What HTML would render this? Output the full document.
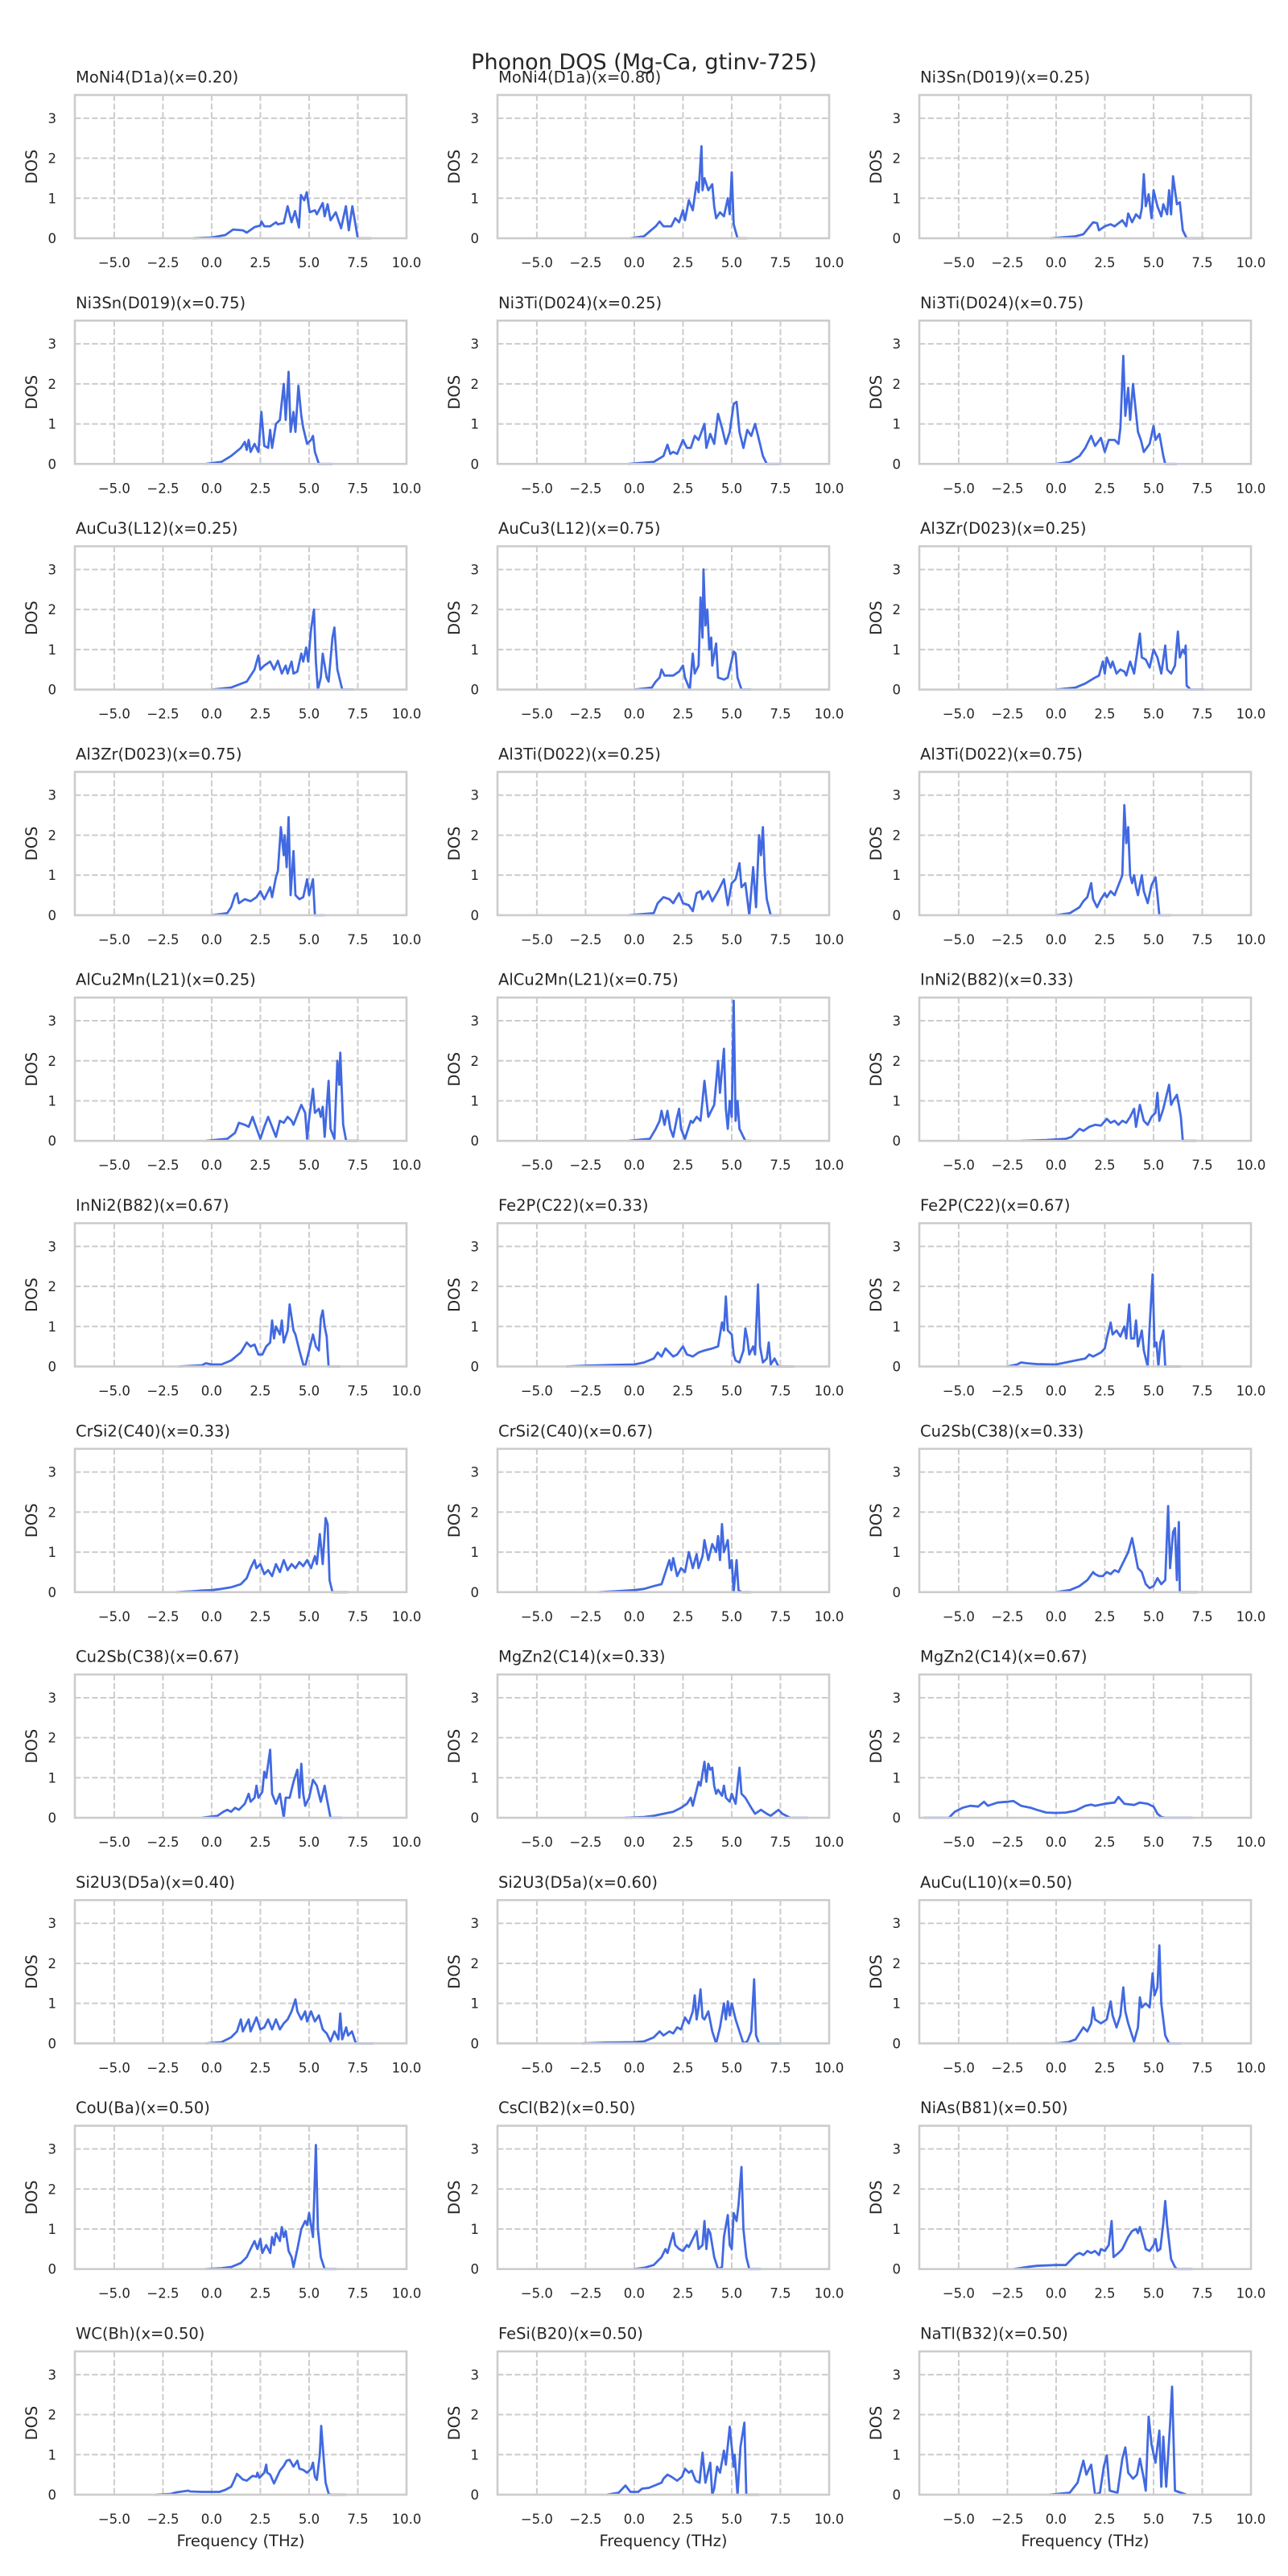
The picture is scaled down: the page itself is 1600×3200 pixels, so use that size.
<!DOCTYPE html>
<html><head><meta charset="utf-8"><style>
html,body{margin:0;padding:0;background:#fff;}
svg{display:block;font-family:"DejaVu Sans","Liberation Sans",sans-serif;}
</style></head><body>
<svg id="fig" width="1600" height="3200" viewBox="0 0 1600 3200" xmlns="http://www.w3.org/2000/svg">
<rect x="0" y="0" width="1600" height="3200" fill="#fff"/>
<text x="800" y="86" text-anchor="middle" font-size="27" fill="#262626">Phonon DOS (Mg-Ca, gtinv-725)</text>
</svg>
<script>
const titles = ["MoNi4(D1a)(x=0.20)","MoNi4(D1a)(x=0.80)","Ni3Sn(D019)(x=0.25)","Ni3Sn(D019)(x=0.75)","Ni3Ti(D024)(x=0.25)","Ni3Ti(D024)(x=0.75)","AuCu3(L12)(x=0.25)","AuCu3(L12)(x=0.75)","Al3Zr(D023)(x=0.25)","Al3Zr(D023)(x=0.75)","Al3Ti(D022)(x=0.25)","Al3Ti(D022)(x=0.75)","AlCu2Mn(L21)(x=0.25)","AlCu2Mn(L21)(x=0.75)","InNi2(B82)(x=0.33)","InNi2(B82)(x=0.67)","Fe2P(C22)(x=0.33)","Fe2P(C22)(x=0.67)","CrSi2(C40)(x=0.33)","CrSi2(C40)(x=0.67)","Cu2Sb(C38)(x=0.33)","Cu2Sb(C38)(x=0.67)","MgZn2(C14)(x=0.33)","MgZn2(C14)(x=0.67)","Si2U3(D5a)(x=0.40)","Si2U3(D5a)(x=0.60)","AuCu(L10)(x=0.50)","CoU(Ba)(x=0.50)","CsCl(B2)(x=0.50)","NiAs(B81)(x=0.50)","WC(Bh)(x=0.50)","FeSi(B20)(x=0.50)","NaTl(B32)(x=0.50)"];
const xTicks = [-5, -2.5, 0, 2.5, 5, 7.5, 10];
const xTickLabels = ["\u22125.0","\u22122.5","0.0","2.5","5.0","7.5","10.0"];
const yTicks = [0, 1, 2, 3];
const xDomain = [-7.02, 10];
const yDomain = [0, 3.58];
// spectra: flat [freq, dos, freq, dos, ...] per panel
const spectra = [
[-0.97,0,0,0.02,0.7,0.08,1.1,0.22,1.6,0.2,1.8,0.14,2.2,0.28,2.5,0.32,2.55,0.42,2.7,0.3,3.0,0.3,3.3,0.4,3.4,0.35,3.7,0.38,3.9,0.8,4.1,0.4,4.28,0.68,4.48,0.27,4.58,1.08,4.75,0.95,4.88,1.15,5.03,0.65,5.3,0.7,5.4,0.6,5.7,0.88,5.8,0.55,5.95,0.85,6.1,0.45,6.37,0.65,6.64,0.25,6.89,0.8,7.04,0.2,7.22,0.8,7.5,0,8.2,0],
[-0.2,0,0.5,0.05,1.1,0.3,1.3,0.42,1.5,0.3,1.9,0.3,2.1,0.5,2.3,0.4,2.5,0.7,2.6,0.45,2.8,0.95,3.0,0.7,3.2,1.4,3.3,1.15,3.45,2.3,3.5,1.2,3.6,1.5,3.8,1.2,4.0,1.35,4.1,0.8,4.2,0.5,4.4,0.65,4.6,0.55,4.8,1.0,4.9,0.6,5.0,1.65,5.1,0.35,5.3,0,5.8,0],
[-0.3,0,1.0,0.05,1.4,0.1,1.9,0.4,2.1,0.38,2.2,0.2,2.5,0.3,2.8,0.35,3.0,0.3,3.4,0.45,3.6,0.3,3.7,0.62,3.9,0.4,4.1,0.6,4.3,0.5,4.4,0.75,4.5,1.6,4.6,0.8,4.75,1.1,4.9,0.5,5.0,1.2,5.2,0.8,5.4,0.55,5.5,0.85,5.7,0.6,5.8,1.2,5.9,0.6,6.0,1.55,6.2,0.85,6.35,0.9,6.5,0.2,6.7,0,7.6,0],
[-0.3,0,0.5,0.05,1.0,0.2,1.5,0.4,1.7,0.55,1.8,0.35,1.9,0.6,2.0,0.3,2.2,0.5,2.4,0.3,2.55,1.3,2.7,0.45,2.9,0.4,3.0,0.85,3.1,0.4,3.3,1.0,3.5,1.1,3.7,2.0,3.8,1.1,3.95,2.3,4.05,0.8,4.2,1.3,4.3,0.8,4.45,1.95,4.6,1.2,4.7,0.9,4.9,0.5,5.1,0.6,5.2,0.7,5.3,0.3,5.5,0,6.2,0],
[-0.3,0,1.0,0.05,1.5,0.2,1.7,0.48,1.85,0.25,2.0,0.3,2.2,0.25,2.5,0.6,2.7,0.4,2.9,0.4,3.1,0.7,3.3,0.6,3.6,1.0,3.7,0.4,3.9,0.75,4.1,0.5,4.3,1.25,4.5,0.9,4.7,0.5,4.9,0.8,5.1,1.5,5.25,1.55,5.4,0.8,5.6,0.4,5.8,0.85,6.0,0.7,6.2,1.0,6.4,0.6,6.6,0.2,6.8,0,7.5,0],
[0,0,0.7,0.05,1.2,0.2,1.5,0.4,1.8,0.7,2.0,0.45,2.3,0.65,2.5,0.3,2.7,0.6,3.0,0.6,3.2,0.5,3.3,0.9,3.45,2.7,3.55,1.2,3.7,1.9,3.8,1.1,3.95,2.0,4.05,1.5,4.2,0.8,4.35,0.6,4.5,0.3,4.8,0.5,5.0,0.95,5.1,0.6,5.3,0.75,5.5,0.2,5.6,0,6.2,0],
[0,0,1.0,0.05,1.8,0.2,2.2,0.5,2.4,0.85,2.5,0.5,2.7,0.6,3.0,0.7,3.2,0.5,3.4,0.72,3.6,0.4,3.8,0.6,3.9,0.4,4.1,0.7,4.2,0.4,4.4,0.45,4.6,0.9,4.7,0.7,4.85,1.05,4.95,0.7,5.1,1.5,5.25,2.0,5.35,0.7,5.45,0,5.6,0.3,5.7,0.9,5.9,0.3,6.0,0.2,6.2,1.3,6.3,1.55,6.45,0.5,6.7,0,7.3,0],
[0,0,0.9,0.05,1.1,0.2,1.3,0.3,1.4,0.5,1.55,0.35,2.0,0.35,2.3,0.45,2.5,0.6,2.6,0.3,2.85,0,3.0,0.9,3.1,0.4,3.3,0.6,3.4,2.3,3.5,1.3,3.55,3.0,3.65,1.6,3.75,2.0,3.85,1.0,3.95,1.3,4.0,0.6,4.2,1.15,4.3,0.3,4.6,0.25,4.8,0.3,5.1,0.95,5.2,0.9,5.3,0.3,5.5,0,6.0,0],
[0,0,1,0.05,1.5,0.15,2.0,0.3,2.2,0.35,2.4,0.7,2.5,0.4,2.6,0.8,2.8,0.55,2.9,0.7,3.1,0.4,3.3,0.5,3.5,0.45,3.6,0.35,3.8,0.7,4.0,0.4,4.3,1.4,4.4,0.8,4.6,0.75,4.8,0.55,5.0,1.0,5.2,0.8,5.4,0.4,5.6,1.1,5.7,0.5,5.9,0.4,6.1,0.6,6.25,1.45,6.35,0.8,6.5,1.0,6.6,0.9,6.65,1.1,6.7,0.1,6.9,0,7.6,0],
[0,0,0.8,0.05,1.0,0.2,1.2,0.5,1.3,0.55,1.4,0.3,1.7,0.4,2.0,0.35,2.3,0.45,2.5,0.6,2.7,0.4,3.0,0.7,3.1,0.45,3.3,0.95,3.4,1.1,3.55,2.2,3.7,1.5,3.75,2.0,3.85,1.2,3.95,2.45,4.05,0.5,4.2,1.6,4.3,0.5,4.5,0.4,4.7,0.45,4.9,0.9,5.0,0.5,5.2,0.9,5.3,0,5.8,0],
[-0.3,0,1.0,0.05,1.2,0.3,1.5,0.45,1.8,0.4,2.0,0.3,2.3,0.55,2.5,0.3,2.8,0.25,3.0,0.1,3.2,0.55,3.4,0.6,3.5,0.4,3.8,0.6,4.0,0.35,4.3,0.6,4.6,0.9,4.8,0.25,5.0,0.8,5.2,0.9,5.4,1.3,5.5,0.7,5.7,0.8,5.9,0,6.1,1.2,6.25,0.2,6.4,2.0,6.5,1.5,6.6,2.2,6.7,1.0,6.8,0.4,7.0,0,7.5,0],
[0,0,0.7,0.05,1.2,0.2,1.4,0.35,1.6,0.45,1.8,0.8,1.9,0.4,2.1,0.2,2.3,0.4,2.5,0.55,2.6,0.45,2.8,0.6,3.0,0.5,3.2,0.75,3.4,1.0,3.5,2.75,3.6,1.8,3.7,2.2,3.8,1.0,3.9,0.8,4.0,1.0,4.1,0.7,4.2,0.5,4.4,1.0,4.5,0.6,4.7,0.3,4.9,0.75,5.1,0.95,5.2,0.5,5.3,0,5.9,0],
[-0.3,0,0.8,0.05,1.2,0.2,1.4,0.45,1.7,0.4,1.9,0.35,2.1,0.6,2.2,0.45,2.5,0.05,2.7,0.35,2.9,0.6,3.1,0.35,3.3,0.1,3.5,0.5,3.7,0.45,3.9,0.6,4.1,0.5,4.2,0.4,4.4,0.65,4.6,0.9,4.8,0.7,4.9,0.05,5.0,0.55,5.2,1.3,5.3,0.7,5.5,0.8,5.6,0.6,5.7,0.85,5.8,0.1,6.0,1.5,6.1,0.3,6.3,0.05,6.45,2.0,6.55,1.4,6.6,2.2,6.75,0.4,6.9,0,7.5,0],
[-0.3,0,0.8,0.05,1.1,0.3,1.3,0.5,1.4,0.75,1.55,0.4,1.7,0.75,1.85,0.3,2.0,0.1,2.2,0.6,2.3,0.8,2.4,0.3,2.6,0.05,2.9,0.5,3.0,0.45,3.2,0.6,3.4,0.5,3.6,1.5,3.8,0.6,4.0,0.8,4.1,0.9,4.3,2.0,4.4,1.2,4.6,2.3,4.7,0.8,4.8,0.3,4.9,1.0,5.0,0.6,5.1,3.5,5.2,0.5,5.3,1.0,5.4,0.3,5.7,0,6.0,0],
[-1.8,0,-0.5,0.02,0.5,0.05,0.8,0.1,1.0,0.2,1.2,0.3,1.4,0.25,1.7,0.35,2.0,0.4,2.3,0.38,2.6,0.55,2.8,0.45,3.0,0.5,3.2,0.4,3.4,0.5,3.6,0.45,3.8,0.6,4.0,0.8,4.1,0.35,4.3,0.9,4.5,0.5,4.7,0.4,4.9,0.6,5.1,0.7,5.2,1.2,5.3,0.5,5.5,0.8,5.6,1.0,5.8,1.4,5.9,0.9,6.0,1.0,6.2,1.15,6.3,0.9,6.4,0.6,6.5,0,7.2,0],
[-1.7,0,-0.5,0.03,-0.3,0.08,0,0.05,0.5,0.05,1.0,0.15,1.5,0.35,1.8,0.6,2.0,0.5,2.2,0.55,2.4,0.3,2.6,0.3,2.8,0.5,3.0,0.6,3.1,1.15,3.2,0.7,3.3,1.0,3.5,0.8,3.6,1.15,3.7,0.6,3.9,0.9,4.0,1.55,4.2,0.9,4.3,0.8,4.5,0.4,4.7,0.05,4.8,0,5.0,0.4,5.2,0.8,5.35,0.5,5.5,0.4,5.6,1.2,5.7,1.4,5.8,1.0,5.9,0.75,6.0,0,6.6,0],
[-3.5,0,-2.5,0.02,-1.0,0.04,0,0.05,0.5,0.1,1.0,0.2,1.2,0.35,1.4,0.25,1.6,0.45,1.8,0.35,2.0,0.25,2.2,0.3,2.5,0.5,2.7,0.3,3.0,0.25,3.3,0.35,3.6,0.4,4.0,0.45,4.3,0.5,4.5,1.1,4.6,0.9,4.7,1.75,4.8,0.9,5.0,0.8,5.1,0.3,5.2,0.15,5.4,0.1,5.6,0.4,5.7,0.95,5.8,0.7,5.9,0.3,6.1,0.5,6.2,0.3,6.35,2.05,6.45,0.5,6.6,0.1,6.8,0.2,6.9,0.6,7.0,0.05,7.2,0.2,7.4,0,8.2,0],
[-2.5,0,-2.0,0.05,-1.8,0.1,-1.5,0.08,-1.0,0.06,0,0.05,0.5,0.1,1.0,0.15,1.5,0.2,1.7,0.3,1.9,0.25,2.1,0.3,2.3,0.35,2.5,0.45,2.6,0.7,2.7,0.9,2.8,1.1,2.9,0.8,3.1,0.9,3.3,0.75,3.5,1.0,3.6,0.7,3.75,1.55,3.85,0.7,4.0,0.7,4.1,1.15,4.2,0.5,4.4,0.9,4.5,0.4,4.7,0,4.8,1.0,4.95,2.3,5.05,0.5,5.15,0.6,5.25,0,5.35,0.6,5.5,0.9,5.6,0,6.4,0],
[-1.8,0,-1,0.02,-0.5,0.04,0,0.05,0.5,0.08,1.0,0.12,1.5,0.2,1.8,0.35,2.0,0.6,2.2,0.8,2.3,0.6,2.5,0.7,2.7,0.45,2.9,0.55,3.1,0.4,3.3,0.7,3.5,0.5,3.7,0.8,3.9,0.55,4.1,0.7,4.3,0.6,4.5,0.75,4.7,0.65,4.9,0.8,5.1,0.6,5.3,0.9,5.4,0.7,5.55,1.45,5.7,0.7,5.85,1.85,5.95,1.7,6.05,0.3,6.2,0,7.0,0],
[-1.8,0,-1,0.02,0,0.05,0.5,0.08,1.0,0.15,1.4,0.2,1.6,0.5,1.8,0.8,1.9,0.55,2.0,0.85,2.2,0.4,2.4,0.6,2.6,0.5,2.8,1.0,3.0,0.6,3.2,0.95,3.3,0.6,3.5,0.9,3.6,1.3,3.8,0.8,4.0,1.2,4.2,1.0,4.3,1.4,4.4,0.8,4.5,1.7,4.6,1.0,4.8,1.3,4.9,0.6,5.0,0.8,5.1,0,5.25,0.8,5.35,0.05,5.5,0,6.0,0],
[0,0,0.7,0.05,1.2,0.15,1.6,0.3,1.9,0.5,2.0,0.45,2.2,0.4,2.4,0.4,2.6,0.5,2.8,0.45,3.0,0.55,3.2,0.5,3.5,0.8,3.7,1.0,3.9,1.35,4.0,1.1,4.2,0.6,4.4,0.5,4.6,0.2,4.8,0.1,5.0,0.15,5.2,0.35,5.4,0.2,5.6,0.3,5.75,2.15,5.85,0.6,6.0,1.5,6.1,1.6,6.2,0.3,6.3,1.75,6.35,0,7.3,0],
[-0.5,0,0.3,0.05,0.6,0.15,0.8,0.2,1.0,0.15,1.2,0.25,1.4,0.2,1.7,0.35,1.9,0.6,2.0,0.4,2.2,0.5,2.3,0.8,2.4,0.5,2.6,0.65,2.7,1.15,2.8,1.0,3.0,1.7,3.1,0.6,3.3,0.35,3.5,0.6,3.7,0,3.8,0.5,4.0,0.5,4.2,0.9,4.4,1.2,4.5,0.5,4.6,1.35,4.7,0.6,4.8,0.3,5.0,0.5,5.2,0.95,5.4,0.8,5.6,0.4,5.8,0.8,5.9,0.5,6.1,0,6.7,0],
[-0.5,0,0.5,0.02,1.0,0.05,1.5,0.1,2.0,0.15,2.4,0.25,2.7,0.35,2.9,0.5,3.0,0.3,3.3,0.9,3.4,0.8,3.6,1.4,3.7,0.9,3.8,1.35,3.9,1.2,4.0,1.25,4.1,0.8,4.2,0.6,4.3,0.7,4.5,0.55,4.6,0.8,4.7,0.5,4.9,0.4,5.0,0.6,5.2,0.35,5.4,1.25,5.5,0.6,5.7,0.5,6.0,0.25,6.2,0.1,6.5,0.2,6.8,0.1,7.0,0.05,7.4,0.2,7.6,0.1,8.0,0,8.9,0],
[-6.8,0,-5.5,0,-5.2,0.15,-4.8,0.25,-4.4,0.3,-4.0,0.28,-3.7,0.4,-3.5,0.3,-3.0,0.38,-2.5,0.4,-2.2,0.42,-1.8,0.3,-1.3,0.25,-1.0,0.2,-0.5,0.13,0,0.12,0.5,0.13,1.0,0.18,1.5,0.3,1.8,0.33,2.0,0.3,2.5,0.35,3.0,0.38,3.2,0.52,3.5,0.35,4.0,0.32,4.3,0.38,4.7,0.35,5.0,0.28,5.2,0.1,5.4,0.02,5.6,0,7.0,0],
[-0.3,0,0.5,0.03,1.0,0.15,1.3,0.3,1.5,0.6,1.6,0.3,1.9,0.6,2.0,0.3,2.3,0.65,2.5,0.35,2.7,0.4,2.9,0.6,3.1,0.35,3.3,0.6,3.5,0.35,3.7,0.5,3.9,0.6,4.1,0.8,4.3,1.1,4.4,0.8,4.6,0.6,4.8,0.8,4.9,0.55,5.1,0.8,5.3,0.55,5.5,0.7,5.7,0.35,5.9,0.25,6.1,0.05,6.3,0.3,6.5,0.1,6.6,0.75,6.7,0.1,6.9,0.4,7.0,0.2,7.2,0.3,7.4,0,8.3,0],
[-2.7,0,-1.5,0.02,0,0.03,0.5,0.05,1.0,0.15,1.3,0.3,1.5,0.2,1.8,0.3,2.0,0.25,2.2,0.4,2.4,0.35,2.6,0.65,2.8,0.5,3.0,0.8,3.1,1.2,3.2,0.6,3.3,0.9,3.4,1.35,3.5,0.65,3.6,0.6,3.8,0.8,4.0,0.3,4.2,0,4.4,0.4,4.6,1.0,4.7,0.6,4.8,1.05,4.9,0.7,5.0,1.0,5.2,0.6,5.4,0.3,5.6,0,5.8,0.05,6.0,0.3,6.15,1.6,6.25,0.2,6.4,0,7.5,0],
[0,0,0.6,0.03,1.0,0.1,1.4,0.4,1.6,0.3,1.8,0.5,1.9,0.9,2.0,0.6,2.3,0.5,2.6,0.6,2.8,1.05,2.9,0.7,3.1,0.4,3.3,0.7,3.45,1.4,3.55,0.8,3.7,0.5,3.9,0.2,4.0,0.05,4.2,0.4,4.3,1.15,4.4,0.9,4.6,1.0,4.8,0.9,4.95,1.75,5.05,1.2,5.2,1.4,5.3,2.45,5.4,1.0,5.6,0.2,5.8,0,6.4,0],
[-0.3,0,0.5,0.02,1.0,0.05,1.5,0.15,1.8,0.3,2.0,0.5,2.2,0.7,2.35,0.5,2.5,0.75,2.6,0.4,2.8,0.6,3.0,0.4,3.1,0.8,3.2,0.6,3.3,0.9,3.5,0.7,3.6,1.05,3.7,0.8,3.8,0.95,3.95,0.45,4.1,0.3,4.2,0.05,4.4,0.5,4.6,1.0,4.8,1.2,4.9,1.1,5.0,1.4,5.2,0.8,5.35,3.1,5.45,1.0,5.6,0.3,5.8,0,6.4,0],
[0,0,0.5,0.03,1.0,0.1,1.4,0.3,1.6,0.5,1.7,0.4,2.0,0.9,2.1,0.6,2.3,0.5,2.5,0.45,2.7,0.6,2.8,0.55,3.2,0.95,3.3,0.5,3.5,0.6,3.6,1.2,3.7,0.5,3.8,1.0,3.9,0.9,4.1,0.3,4.3,0,4.5,0.05,4.6,0.8,4.8,1.35,4.9,0.6,5.0,0.5,5.1,1.4,5.25,1.2,5.35,1.6,5.5,2.55,5.6,1.0,5.75,0.3,5.9,0,6.5,0],
[-2.2,0,-1.5,0.05,-1.0,0.08,0,0.1,0.5,0.1,0.7,0.2,1.0,0.35,1.2,0.4,1.4,0.35,1.6,0.45,1.8,0.4,2.0,0.45,2.2,0.35,2.3,0.5,2.5,0.45,2.7,0.6,2.85,1.2,2.95,0.3,3.2,0.4,3.4,0.5,3.7,0.8,3.9,0.95,4.1,1.0,4.2,0.9,4.3,1.05,4.5,0.7,4.6,0.5,4.8,0.45,5.0,0.6,5.1,0.75,5.2,0.45,5.35,0.5,5.5,1.15,5.6,1.7,5.7,1.1,5.9,0.25,6.1,0.05,6.2,0,7.0,0],
[-2.9,0,-2.1,0.02,-1.8,0.06,-1.2,0.1,-1.1,0.08,-0.5,0.07,0.4,0.07,0.7,0.12,1.0,0.2,1.1,0.3,1.3,0.52,1.6,0.38,1.8,0.35,2.1,0.47,2.3,0.45,2.35,0.55,2.45,0.42,2.7,0.55,2.8,0.75,2.85,0.55,3.0,0.5,3.2,0.28,3.5,0.6,3.7,0.72,3.85,0.85,4.0,0.87,4.2,0.7,4.4,0.85,4.5,0.65,4.7,0.62,4.9,0.55,5.1,0.65,5.2,0.8,5.3,0.45,5.4,0.37,5.55,1.0,5.62,1.72,5.75,0.9,5.85,0.3,6.0,0.03,6.1,0,6.9,0],
[-1.4,0,-0.8,0.05,-0.45,0.23,-0.2,0.07,0.2,0.07,0.4,0.15,0.75,0.17,1.4,0.3,1.5,0.4,1.7,0.5,1.9,0.45,2.2,0.35,2.45,0.45,2.6,0.65,2.8,0.55,2.95,0.6,3.15,0.35,3.35,0.3,3.5,1.05,3.65,0.3,3.8,0.6,3.9,0.8,4.0,0,4.1,0.15,4.25,0.7,4.4,0.55,4.6,1.1,4.7,0.75,4.9,1.7,5.1,0.7,5.15,1.0,5.3,0,5.45,1.2,5.65,1.8,5.75,0,6.4,0],
[-0.35,0,0.7,0.05,1.1,0.3,1.4,0.85,1.55,0.5,1.8,0.75,2.0,0,2.25,0.05,2.45,0.7,2.6,0.98,2.75,0.1,3.15,0.05,3.4,0.9,3.55,1.18,3.7,0.55,3.95,0.4,4.15,0.5,4.3,0.9,4.5,0.4,4.6,0.1,4.75,1.95,4.9,1.25,5.1,0.8,5.3,1.6,5.4,0.2,5.5,1.45,5.65,0.2,5.85,1.75,5.95,2.7,6.1,0.1,6.7,0]
];

const NS = "http://www.w3.org/2000/svg";
const fig = document.getElementById('fig');
const colLeft = [93, 618, 1142];
const AW = 412, AH = 178, TOP0 = 118, ROWSTEP = 280.3;
function mk(tag, attrs, parent){ const e = document.createElementNS(NS, tag); for (const k in attrs) e.setAttribute(k, attrs[k]); (parent||fig).appendChild(e); return e; }

titles.forEach((t, i) => {
  const r = Math.floor(i / 3), c = i % 3;
  const L = colLeft[c], T = TOP0 + r * ROWSTEP, B = T + AH, R = L + AW;
  const sx = v => L + (v - xDomain[0]) / (xDomain[1] - xDomain[0]) * AW;
  const sy = v => B - (v - yDomain[0]) / (yDomain[1] - yDomain[0]) * AH;
  const g = mk('g', {});
  
  
  const tt = mk('text', {x: L + 1, y: T - 15.5, 'font-size': 19.5, fill: '#262626'}, g);
  tt.textContent = t;
  
  
  xTicks.forEach((v, k) => {
    const gl = mk('line', {x1: sx(v), x2: sx(v), y1: T, y2: B, stroke: '#cccccc', 'stroke-width': 2, 'stroke-dasharray': '7.4,3.2'}, g);
    
    
    const tl = mk('text', {x: sx(v), y: B + 36, 'font-size': 16.5, fill: '#262626', 'text-anchor': 'middle'}, g);
    tl.textContent = xTickLabels[k];
    
    
  });
  yTicks.forEach(v => {
    const gl = mk('line', {x1: L, x2: R, y1: sy(v), y2: sy(v), stroke: '#cccccc', 'stroke-width': 2, 'stroke-dasharray': '7.4,3.2'}, g);
    
    
    const tl = mk('text', {x: L - 23, y: sy(v) + 6, 'font-size': 16.5, fill: '#262626', 'text-anchor': 'end'}, g);
    tl.textContent = String(v);
    
    
  });
  const yl = mk('text', {x: 0, y: 0, 'font-size': 19.5, fill: '#262626', 'text-anchor': 'middle', transform: 'translate(' + (L - 47) + ',' + (T + AH / 2) + ') rotate(-90)'}, g);
  yl.textContent = 'DOS';
  
  
  if (r === 10) {
    const xl = mk('text', {x: L + AW / 2, y: B + 64, 'font-size': 19.5, fill: '#262626', 'text-anchor': 'middle'}, g);
    xl.textContent = 'Frequency (THz)';
    
    
  }
  const s = spectra[i];
  let d = '';
  for (let k = 0; k < s.length; k += 2) d += (k ? 'L' : 'M') + sx(s[k]).toFixed(1) + ',' + sy(s[k + 1]).toFixed(1);
  const p = mk('path', {d: d, fill: 'none', stroke: '#4169e1', 'stroke-width': 2.8, 'stroke-linejoin': 'round'}, g);
  
  
  const fr = mk('rect', {x: L, y: T, width: AW, height: AH, fill: 'none', stroke: '#cccccc', 'stroke-width': 2.6}, g);
  
  
});
</script>
</body></html>
